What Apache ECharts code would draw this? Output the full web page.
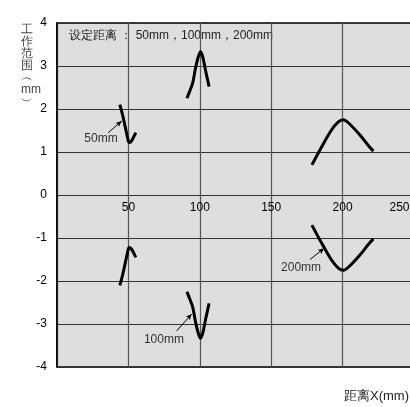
<!DOCTYPE html>
<html><head><meta charset="utf-8">
<script src="https://cdn.jsdelivr.net/npm/echarts@6/dist/echarts.min.js"></script>
<style>html,body{margin:0;padding:0;background:#fff}#c{width:410px;height:407px}</style>
</head><body><div id="c"></div>
<script>
// ---- data ----
var xTicks = [0, 50, 100, 150, 200, 250];
var yTicks = [-4, -3, -2, -1, 0, 1, 2, 3, 4];
var seriesNames = ['50mm', '100mm', '200mm'];
var upper50  = [[44,2.1],[46,1.85],[48,1.55],[49.5,1.32],[50.5,1.22],[52,1.25],[54,1.37],[55.2,1.45]];
var lower50  = [[44,-2.1],[46,-1.85],[48,-1.55],[49.5,-1.32],[50.5,-1.22],[52,-1.25],[54,-1.37],[55.2,-1.45]];
var upper100 = [[91,2.25],[93,2.42],[95,2.6],[97,2.95],[99,3.22],[100.5,3.33],[102,3.22],[104,2.9],[106.5,2.52]];
var lower100 = [[91,-2.25],[93,-2.42],[95,-2.6],[97,-2.95],[99,-3.22],[100.5,-3.33],[102,-3.22],[104,-2.9],[106.5,-2.52]];
var upper200 = [[178.5,0.7],[185,1.1],[192,1.5],[197,1.7],[200.5,1.75],[204,1.68],[212,1.4],[218,1.15],[221.5,1.02]];
var lower200 = [[178.5,-0.7],[185,-1.1],[192,-1.5],[197,-1.7],[200.5,-1.75],[204,-1.68],[212,-1.4],[218,-1.15],[221.5,-1.02]];
var subtitleText = '设定距离 ： 50mm，100mm，200mm';
var yName = '工\n作\n范\n围\n︵\nmm\n︶';
var xName = '距离X(mm)';
// annotation anchors (data coords)
var annot = [
  {text:'50mm',  label:[30.8,1.30],  from:[35.9,1.45],  to:[45.3,1.72]},
  {text:'100mm', label:[74.9,-3.37], from:[83.8,-3.16], to:[94.3,-2.77]},
  {text:'200mm', label:[170.9,-1.70],from:[177.2,-1.50],to:[187,-1.24]}
];

var font = 'Liberation Sans, Arial, sans-serif';
var chart = echarts.init(document.getElementById('c'));
function curve(d){
  return {type:'line', data:d, smooth:0.3, showSymbol:false, symbol:'none',
    lineStyle:{color:'#000', width:3}, z:5, silent:true};
}
var series = [curve(upper50), curve(lower50), curve(upper100), curve(lower100), curve(upper200), curve(lower200)];
series.push({
  type:'scatter', symbolSize:0, data: annot.map(function(a){return {value:a.label, name:a.text};}),
  label:{show:true, position:'inside', formatter:function(p){return p.name;}, color:'#000', fontSize:12, fontFamily:font},
  markLine:{silent:true, symbol:['none','arrow'], symbolSize:[4,6],
    lineStyle:{color:'#000', width:1, type:'solid'}, label:{show:false},
    data: annot.map(function(a){return [{coord:a.from},{coord:a.to}];})},
  z:6
});
var xMax = xTicks[xTicks.length-1];
chart.setOption({
  animation:false,
  backgroundColor:'#fff',
  grid:{left:57, top:23, right:-4, height:344, outerBoundsMode:'none', containLabel:false, show:true, backgroundColor:'#dedede', borderColor:'#000', borderWidth:1.5},
  xAxis:{type:'value', min:xTicks[0], max:xMax, interval:50,
    axisLine:{show:false}, axisTick:{show:false},
    axisLabel:{color:'#000', fontSize:12, fontFamily:font, margin:-(344/2)+7,
      formatter:function(v){ if(v===0) return ''; if(v===xMax) return '{e|'+v+'}'; return String(v);},
      rich:{e:{color:'#000', fontSize:12, fontFamily:font, padding:[0,29,0,0]}}},
    splitLine:{show:true, lineStyle:{color:'#555', width:1.2}}},
  yAxis:{type:'value', min:yTicks[0], max:yTicks[yTicks.length-1], interval:1,
    axisLine:{show:true, lineStyle:{color:'#000', width:1.5}}, axisTick:{show:false},
    axisLabel:{color:'#000', fontSize:12, fontFamily:font, margin:10},
    splitLine:{show:true, lineStyle:{color:'#333', width:1.2}}},
  graphic:[
    {type:'text', left:69, top:30, style:{text:subtitleText, fontSize:12, fontFamily:font, fill:'#222'}},
    {type:'text', left:21, top:24, style:{text:yName, fontSize:12, lineHeight:12, fontFamily:font, fill:'#444', align:'center'}},
    {type:'text', right:1, top:390, style:{text:xName, fontSize:13, fontFamily:font, fill:'#222'}}
  ],
  series:series
});
</script></body></html>
